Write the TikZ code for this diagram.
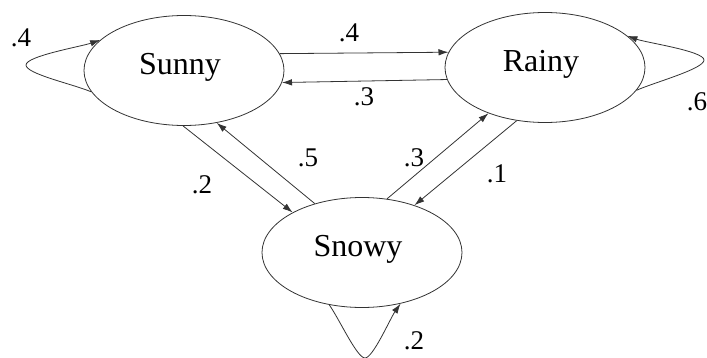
\documentclass[tikz,border=0pt]{standalone}
\usepackage{fontspec}
\setmainfont{Liberation Serif}
\usetikzlibrary{arrows.meta,shapes.geometric}

\begin{document}
\begin{tikzpicture}[x=1pt,y=1pt,
  state/.style={ellipse, draw=black!80, line width=0.8pt,
    minimum width=200pt, minimum height=110pt, inner sep=0pt,
    text depth=13pt, font=\fontsize{32}{32}\selectfont},
  trans/.style={draw=black!80, line width=0.8pt,
    -{Latex[length=10pt,width=6.5pt]}},
  prob/.style={inner sep=0pt, font=\fontsize{27}{27}\selectfont}]
\useasboundingbox (0,0) rectangle (707,357);

% weather states
\node[state] (sunny) at (184,286.5) {\kern-8pt Sunny};
\node[state] (rainy) at (545,289.5) {\kern-8pt Rainy};
\node[state] (snowy) at (362,104.5) {\kern-8pt Snowy};

% turning points of the self transitions
\coordinate (sunnytip) at (26,292);
\coordinate (rainytip) at (704,297);
\coordinate (snowytip) at (365,-1);

% transitions between states
\draw[trans] (sunny.10.5)  -- (rainy.171.5);
\draw[trans] (rainy.187.9) -- (sunny.353.9);
\draw[trans] (sunny.269)   -- (snowy.150);
\draw[trans] (snowy.134.7) -- (sunny.302.2);
\draw[trans] (snowy.65.4)  -- (rainy.219.8);
\draw[trans] (rainy.242.8) -- (snowy.42.6);

% self transitions
\draw[trans] (sunny.193.9)
  to[out=157,in=-90,out distance=20pt,in distance=9pt] (sunnytip)
  to[out=90,in=199,out distance=9pt,in distance=20pt] (sunny.160);
\draw[trans] (rainy.346.5)
  to[out=24,in=-90,out distance=20pt,in distance=9pt] (rainytip)
  to[out=90,in=-20,out distance=9pt,in distance=20pt] (rainy.21.6);
\draw[trans] (snowy.238)
  to[out=-55,in=180,out distance=18pt,in distance=8pt] (snowytip)
  to[out=0,in=235,out distance=8pt,in distance=18pt] (snowy.307);

% transition probabilities
\node[prob] (psr)  at (349,324) {.4};
\node[prob] (prs)  at (364,260) {.3};
\node[prob] (pss)  at (21,319)  {.4};
\node[prob] (prr)  at (697,255) {.6};
\node[prob] (psn)  at (202,172) {.2};
\node[prob] (pns)  at (308,199) {.5};
\node[prob] (pnr)  at (414,199) {.3};
\node[prob] (prn)  at (497,183.5) {.1};
\node[prob] (pnn)  at (414,16)  {.2};
\end{tikzpicture}
\end{document}
